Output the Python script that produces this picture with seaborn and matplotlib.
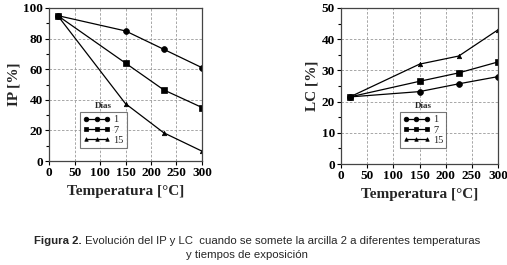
import matplotlib
matplotlib.use("Agg")
import matplotlib.pyplot as plt
import seaborn as sns
import pandas as pd
from matplotlib.ticker import MultipleLocator

temperatura = [17, 150, 225, 300]
dias = ["1", "7", "15"]
ip_1 = [95, 85, 73, 61]
ip_7 = [95, 64, 46.5, 35]
ip_15 = [95, 37.5, 18.5, 6.5]
lc_1 = [21.5, 23.2, 25.7, 28]
lc_7 = [21.5, 26.5, 29.2, 32.7]
lc_15 = [21.5, 32, 34.6, 43]

rows = []
for d, ip, lc in zip(dias, [ip_1, ip_7, ip_15], [lc_1, lc_7, lc_15]):
    for t, a, b in zip(temperatura, ip, lc):
        rows.append({"T": t, "Días": d, "IP": a, "LC": b})
df = pd.DataFrame(rows)

sns.set_style("ticks")
plt.rcParams["font.family"] = ["Liberation Serif", "DejaVu Serif"]

fig = plt.figure(figsize=(5.07, 2.65), dpi=100)
ax1 = fig.add_axes([0.0967, 0.392, 0.3017, 0.578])
ax2 = fig.add_axes([0.6726, 0.381, 0.3097, 0.589])

markers = {"1": "o", "7": "s", "15": "^"}
sizes = {"1": 4.2, "7": 4.2, "15": 3.2}
legends = []


def draw(ax, col, ymax, ystep, yminor, ylabel, leg_loc):
    for d in dias:
        sub = df[df["Días"] == d]
        sns.lineplot(data=sub, x="T", y=col, ax=ax, color="black", lw=0.9,
                     marker=markers[d], markersize=sizes[d], markeredgecolor="black",
                     markeredgewidth=0.5, label=d, legend=False)
    ax.set_xlim(0, 300)
    ax.set_ylim(0, ymax)
    ax.xaxis.set_major_locator(MultipleLocator(50))
    ax.yaxis.set_major_locator(MultipleLocator(ystep))
    ax.yaxis.set_minor_locator(MultipleLocator(yminor))
    ax.grid(True, which="major", color="#999999", ls=(0, (3, 2)), lw=0.6)
    for s in ax.spines.values():
        s.set_color("#444444")
        s.set_linewidth(0.9)
    ax.tick_params(which="both", direction="out", colors="black", labelsize=9.5,
                   length=3, width=0.8, pad=1.5)
    ax.tick_params(which="minor", length=2)
    for lab in ax.get_xticklabels() + ax.get_yticklabels():
        lab.set_fontweight("bold")
    ax.set_xlabel("Temperatura [°C]", fontsize=11, fontweight="bold", labelpad=4)
    ax.set_ylabel(ylabel, fontsize=11, fontweight="bold", labelpad=2)
    leg = ax.legend(loc="lower left", bbox_to_anchor=leg_loc, numpoints=3,
                    fontsize=7.5, frameon=True, fancybox=False, handlelength=2.6,
                    handletextpad=0.3, borderpad=0.3, labelspacing=0.1,
                    markerscale=0.8)
    leg.get_frame().set_edgecolor("#555555")
    leg.get_frame().set_linewidth(0.8)
    legends.append((ax, leg))


draw(ax1, "IP", 100, 20, 10, "IP [%]", (0.17, 0.05))
draw(ax2, "LC", 50, 10, 5, "LC [%]", (0.34, 0.068))

fig.canvas.draw()
r = fig.canvas.get_renderer()

# "Días" title centred above each legend box
for ax, leg in legends:
    bb = leg.get_window_extent(r)
    fx = (bb.x0 + bb.x1) / 2 / fig.bbox.width
    fy = (bb.y1 + 2) / fig.bbox.height
    fig.text(fx, fy, "Días", fontsize=6.5, fontweight="bold", ha="center",
             va="bottom")

# caption: bold "Figura 2." followed by normal text, centred as a whole
t1 = fig.text(0, 0.09, "Figura 2.", fontsize=8.2, fontweight="bold", ha="left",
              va="center", family="Liberation Sans")
t2 = fig.text(0, 0.09, " Evolución del IP y LC  cuando se somete la arcilla 2 a diferentes temperaturas",
              fontsize=8.2, ha="left", va="center", family="Liberation Sans")
w1 = t1.get_window_extent(r).width / fig.bbox.width
w2 = t2.get_window_extent(r).width / fig.bbox.width
x0 = 0.507 - (w1 + w2) / 2
t1.set_x(x0)
t2.set_x(x0 + w1)
fig.text(0.487, 0.038, "y tiempos de exposición", fontsize=8.2, ha="center",
         va="center", family="Liberation Sans")

fig.savefig("out.png", dpi=100)
